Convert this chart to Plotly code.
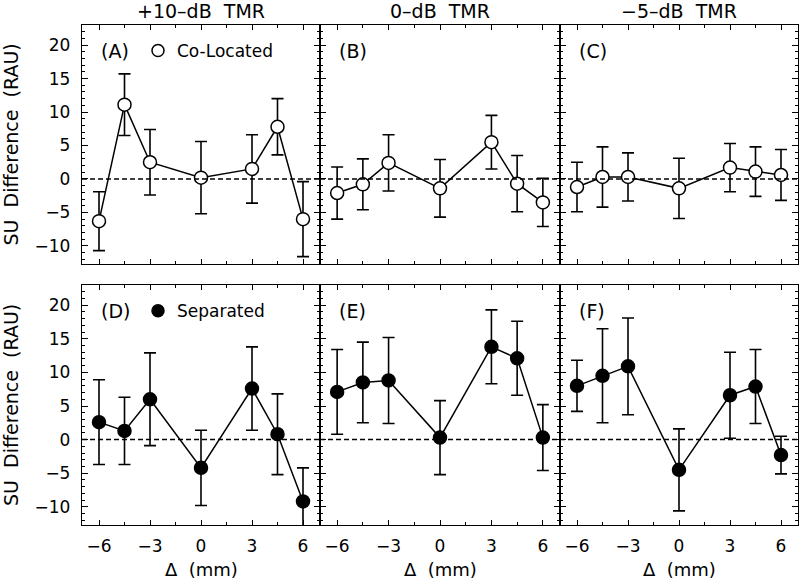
import plotly.graph_objects as go
from plotly.subplots import make_subplots

# ---------------- data ----------------
delta_mm = [-6, -4.5, -3, 0, 3, 4.5, 6]
tmr_labels = ["+10\u2013dB  TMR", "0\u2013dB  TMR", "\u22125\u2013dB  TMR"]
panel_labels = [["(A)", "(B)", "(C)"], ["(D)", "(E)", "(F)"]]

colocated_mean = [
    [-6.3, 11.1, 2.5, 0.2, 1.5, 7.8, -6.0],
    [-2.1, -0.8, 2.4, -1.4, 5.5, -0.7, -3.5],
    [-1.2, 0.3, 0.3, -1.4, 1.7, 1.1, 0.6],
]
colocated_err = [
    [4.4, 4.6, 4.9, 5.4, 5.1, 4.2, 5.6],
    [3.9, 3.8, 4.2, 4.3, 4.0, 4.2, 3.6],
    [3.7, 4.5, 3.6, 4.5, 3.6, 3.7, 3.8],
]
separated_mean = [
    [2.6, 1.3, 6.0, -4.2, 7.6, 0.8, -9.2],
    [7.1, 8.5, 8.8, 0.3, 13.8, 12.1, 0.3],
    [8.0, 9.5, 10.9, -4.5, 6.6, 7.9, -2.3],
]
separated_err = [
    [6.3, 5.0, 6.9, 5.6, 6.2, 6.0, 5.0],
    [6.3, 6.0, 6.4, 5.5, 5.5, 5.5, 4.9],
    [3.8, 7.0, 7.2, 6.1, 6.4, 5.5, 2.8],
]
y_ticks = [-10, -5, 0, 5, 10, 15, 20]
x_ticks = [-6, -3, 0, 3, 6]

# ---------------- figure ----------------
W, H = 800, 579
FONT = "DejaVu Sans"
fig = make_subplots(rows=2, cols=3, horizontal_spacing=0, vertical_spacing=0.04)

x_dom = [(82 / W, 320 / W), (320 / W, 560 / W), (560 / W, 798 / W)]
y_dom = [((H - 264) / H, (H - 25) / H), ((H - 525) / H, (H - 285) / H)]

rows_data = [(colocated_mean, colocated_err, "white"), (separated_mean, separated_err, "black")]

for r in range(2):
    means, errs, fill = rows_data[r]
    for c in range(3):
        fig.add_trace(
            go.Scatter(
                x=delta_mm, y=means[c], mode="lines+markers",
                line=dict(color="black", width=1.5),
                marker=dict(size=13, color=fill, line=dict(color="black", width=1.5)),
                error_y=dict(type="data", array=errs[c], color="black", thickness=1.6, width=6),
                showlegend=False,
            ),
            row=r + 1, col=c + 1,
        )

axis_common = dict(
    showline=True, linecolor="black", linewidth=1.3, mirror="ticks",
    ticks="inside", tickcolor="black", tickwidth=1.2,
    showgrid=False, zeroline=False,
    tickfont=dict(family=FONT, size=17, color="black"),
)

idx = 0
for r in range(2):
    for c in range(3):
        idx += 1
        sfx = "" if idx == 1 else str(idx)
        fig.layout["xaxis" + sfx].update(
            domain=list(x_dom[c]), range=[-7, 7],
            tickmode="array", tickvals=x_ticks, ticklen=5,
            minor=dict(dtick=1.5, tick0=0, ticklen=3, ticks="inside", tickcolor="black", tickwidth=1, showgrid=False),
            showticklabels=(r == 1), ticklabelstandoff=5,
            **axis_common,
        )
        fig.layout["yaxis" + sfx].update(
            domain=list(y_dom[r]), range=[-12.7, 23],
            tickmode="array", tickvals=y_ticks, ticklen=6,
            minor=dict(dtick=1, tick0=0, ticklen=3, ticks="inside", tickcolor="black", tickwidth=1, showgrid=False),
            showticklabels=(c == 0), ticklabelstandoff=7,
            **axis_common,
        )
        # zero reference line
        fig.add_shape(type="line", xref=f"x{sfx} domain", x0=0, x1=1,
                      yref=f"y{sfx}", y0=0, y1=0,
                      line=dict(color="black", width=1.5, dash="5px,3px"))
        # panel label
        fig.add_annotation(text=panel_labels[r][c], xref=f"x{sfx} domain",
                           yref=f"y{sfx} domain", x=0.072, y=0.893,
                           xanchor="left", yanchor="middle", showarrow=False,
                           font=dict(family=FONT, size=19, color="black"))

# legend-like markers and text in panels A and D
legend_items = [("Co-Located", "white", "x domain", "y domain"), ("Separated", "black", "x4 domain", "y4 domain")]
for text, fill, xr, yr in legend_items:
    fig.add_shape(type="circle", xref=xr, yref=yr, xsizemode="pixel", ysizemode="pixel",
                  xanchor=(158 - 82) / 238, yanchor=0.893, x0=-6, x1=6, y0=-6, y1=6,
                  fillcolor=fill, line=dict(color="black", width=1.5))
    fig.add_annotation(text=text, xref=xr, yref=yr, x=(175 - 82) / 238, y=0.893,
                       xanchor="left", yanchor="middle", showarrow=False,
                       font=dict(family=FONT, size=17, color="black"))

# column titles and x titles
for c in range(3):
    fig.add_annotation(text=tmr_labels[c], xref="paper", yref="paper",
                       x=(x_dom[c][0] + x_dom[c][1]) / 2, y=(H - 11) / H,
                       xanchor="center", yanchor="middle", showarrow=False,
                       font=dict(family=FONT, size=19, color="black"))
    fig.add_annotation(text="\u0394  (mm)", xref="paper", yref="paper",
                       x=(x_dom[c][0] + x_dom[c][1]) / 2, y=(H - 569) / H,
                       xanchor="center", yanchor="middle", showarrow=False,
                       font=dict(family=FONT, size=18, color="black"))

# y titles
for r in range(2):
    fig.add_annotation(text="SU  Difference  (RAU)", xref="paper", yref="paper",
                       x=11 / W, y=(y_dom[r][0] + y_dom[r][1]) / 2,
                       xanchor="center", yanchor="middle", textangle=-90, showarrow=False,
                       font=dict(family=FONT, size=19, color="black"))

fig.update_layout(
    width=W, height=H, margin=dict(l=0, r=0, t=0, b=0),
    paper_bgcolor="white", plot_bgcolor="white", showlegend=False,
)

fig.write_html(
    "out.html",
    config={"displayModeBar": False},
    post_script="document.body.style.margin='0';document.body.style.overflow='hidden';",
)
